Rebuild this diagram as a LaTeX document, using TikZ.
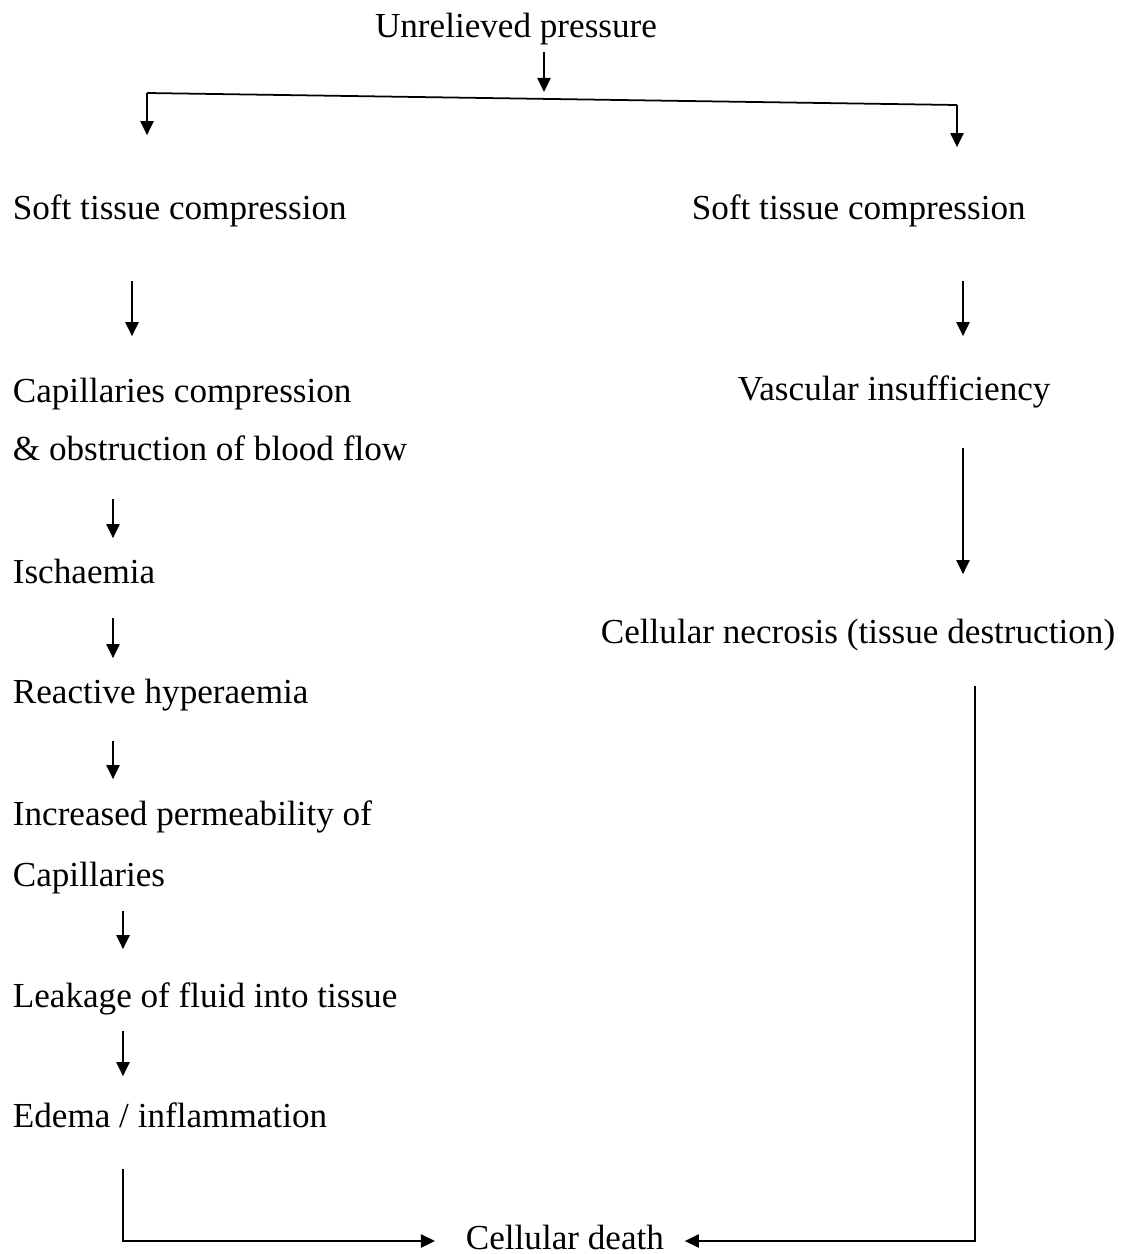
\documentclass[tikz,border=0pt]{standalone}
\usepackage{fontspec}
\setmainfont{Liberation Serif}
\usetikzlibrary{arrows.meta}

\tikzset{
  txt/.style={inner sep=0pt, text height=0.48cm, text depth=0.16cm, anchor=base west},
  arr/.style={-{Triangle[width=7.5pt,length=8pt]}}
}

\begin{document}
\begin{tikzpicture}[
    x=0.02cm,
    y=-0.02cm,
    line width=1pt,
    font=\fontsize{20}{24}\selectfont
  ]
  \useasboundingbox (0,0) rectangle (1123,1254);

  \node[txt, anchor=base] (top) at (516,37) {Unrelieved pressure};
  % left column
  \node[txt] (soft1) at (12,219) {Soft tissue compression};
  \node[txt] (cap1) at (12,402) {Capillaries compression};
  \node[txt] (cap2) at (12,460) {\& obstruction of blood flow};
  \node[txt] (isch) at (12,583) {Ischaemia};
  \node[txt] (react) at (12,703) {Reactive hyperaemia};
  \node[txt] (incr) at (12,825) {Increased permeability of};
  \node[txt] (capl) at (12,886) {Capillaries};
  \node[txt] (leak) at (12,1007) {Leakage of fluid into tissue};
  \node[txt] (edema) at (12,1127) {Edema / inflammation};
  % right column
  \node[txt] (soft2) at (691,219) {Soft tissue compression};
  \node[txt] (vasc) at (737,400) {Vascular insufficiency};
  \node[txt] (necr) at (600,643) {Cellular necrosis (tissue destruction)};
  %
  \node[txt] (death) at (465,1249) {Cellular death};

  \coordinate (bm) at (544,92);
  \coordinate (bl) at (147,93);
  \coordinate (br) at (957,105);
  \coordinate (xa) at (132,0);
  \coordinate (xb) at (113,0);
  \coordinate (xc) at (123,0);
  \coordinate (xr) at (963,0);
  \coordinate (xs) at (975,0);

  \draw[arr, shorten <=0.12cm] (top.south -| bm) -- (bm);
  \draw (bl) -- (br);
  \draw[arr, shorten >=1.18cm] (bl) -- (soft1.north -| bl);
  \draw[arr, shorten >=0.94cm] (br) -- (soft2.north -| br);

  \draw[arr, shorten <=1.06cm, shorten >=0.82cm] (soft1.south -| xa) -- (cap1.north -| xa);
  \draw[arr, shorten <=0.6cm, shorten >=0.4cm] (cap2.south -| xb) -- (isch.north -| xb);
  \draw[arr, shorten <=0.52cm, shorten >=0.4cm] (isch.south -| xb) -- (react.north -| xb);
  \draw[arr, shorten <=0.58cm, shorten >=0.42cm] (react.south -| xb) -- (incr.north -| xb);
  \draw[arr, shorten <=0.32cm, shorten >=0.66cm] (capl.south -| xc) -- (leak.north -| xc);
  \draw[arr, shorten <=0.3cm, shorten >=0.52cm] (leak.south -| xc) -- (edema.north -| xc);
  \draw[arr, shorten <=0.66cm, shorten >=0.6cm] (edema.south -| xc) |- (death.west);

  \draw[arr, shorten <=1.06cm, shorten >=0.78cm] (soft2.south -| xr) -- (vasc.north -| xr);
  \draw[arr, shorten <=0.78cm, shorten >=0.88cm] (vasc.south -| xr) -- (necr.north -| xr);
  \draw[arr, shorten <=0.68cm, shorten >=0.4cm] (necr.south -| xs) |- (death.east);
\end{tikzpicture}
\end{document}
